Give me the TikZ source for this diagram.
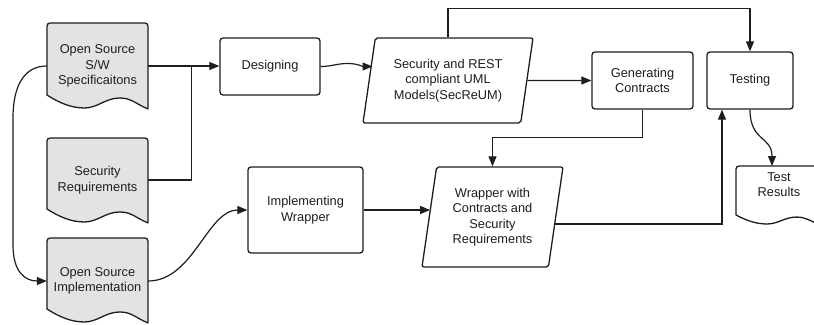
\documentclass[tikz,border=0pt]{standalone}
\usepackage{fontspec}
\setmainfont{Liberation Sans}
\usetikzlibrary{arrows.meta,shapes.geometric,calc}
\definecolor{ink}{HTML}{1E1E1E}
\definecolor{docfill}{HTML}{E3E3E3}
\newcommand\mainf{\fontsize{12.8pt}{15.5pt}\selectfont}
% #1 left, #2 top, #3 width, #4 height of left side, #5 wave amplitude, #6 fill
\newcommand\docshape[6]{%
  \draw[docst, fill=#6] [rounded corners=3pt] (#1,{#2+#4}) -- (#1,#2) -- ({#1+#3},#2) [sharp corners]
    -- ({#1+#3},{#2+#4+1.07*#5})
    .. controls ({#1+0.88*#3},{#2+#4+0.7*#5}) and ({#1+0.84*#3},{#2+#4+0.23*#5}) .. ({#1+0.72*#3},{#2+#4+0.23*#5})
    .. controls ({#1+0.58*#3},{#2+#4+0.23*#5}) and ({#1+0.5*#3},{#2+#4+#5}) .. ({#1+0.37*#3},{#2+#4+#5})
    .. controls ({#1+0.24*#3},{#2+#4+#5}) and ({#1+0.12*#3},{#2+#4+0.6*#5}) .. (#1,{#2+#4}) -- cycle;}
\tikzset{
  box/.style={draw=ink, line width=1.3pt, rounded corners=3pt, fill=white, inner sep=0pt, align=center, font=\mainf, text=ink},
  para/.style={trapezium, trapezium stretches body, draw=ink, line width=1.3pt, rounded corners=2pt, fill=white, inner sep=0pt, align=center, font=\mainf, text=ink},
  doctext/.style={inner sep=0pt, minimum width=101pt, minimum height=86pt, align=center, font=\mainf, text=ink},
  plaintext/.style={inner sep=0pt, align=center, font=\mainf, text=ink},
  arr/.style={draw=ink, line width=1.2pt, -{Triangle[length=10pt,width=8pt]}},
  conn/.style={draw=ink, line width=1.2pt},
  docst/.style={draw=ink, line width=1.3pt, line join=round}
}
\begin{document}
\begin{tikzpicture}[x=1pt,y=-1pt]
\fill[white] (0,0) rectangle (814,324);
\useasboundingbox (0,0) rectangle (814,324);

% documents
\docshape{47}{23}{101}{72}{13}{docfill}
\docshape{47}{138}{101}{71}{13}{docfill}
\docshape{47}{238}{101}{71}{13}{docfill}
\docshape{736}{166}{84}{49}{9}{white}
\node[doctext] (d1) at (97.5,66) {Open Source\\S/W\\Specificaitons};
\node[doctext] (d2) at (97.5,180) {Security\\Requirements};
\node[doctext] (d3) at (97.5,281) {Open Source\\Implementation};
\node[plaintext] (tr) at (779,184.5) {Test\\Results};
\coordinate (trtop) at (772,166);

% process boxes
\node[box, minimum width=100pt, minimum height=57pt] (des) at (270,66.5) {Designing};
\node[box, minimum width=101pt, minimum height=57pt] (gen) at (642.5,80.5) {Generating\\Contracts};
\node[box, minimum width=86pt, minimum height=57pt] (test) at (750,80.5) {Testing};
\node[box, minimum width=115pt, minimum height=86pt] (impl) at (305.5,210) {Implementing\\Wrapper};

% data (parallelograms)
\node[para, trapezium left angle=74, trapezium right angle=106, minimum width=170pt, minimum height=85pt] (sec) at (448,80.5) {Security and REST\\compliant UML\\Models(SecReUM)};
\node[para, trapezium left angle=76, trapezium right angle=104, minimum width=141pt, minimum height=100pt] (wrap) at (492.5,217) {Wrapper with\\Contracts and\\Security\\Requirements};

% connectors
\draw[arr] (d1.east) -- (d1.east -| des.west);
\path (d1.east) -- ++(43,0) coordinate (j);
\draw[conn] (d2.east) -| (j);
\draw[arr] (des.east) to[out=0,in=180] ($(des.east)+(27,-3)$) to[out=0,in=180] ($(des.east -| sec.west)+(4,0)$);
\draw[arr] (sec.north) -- ++(0,-29) -| (test.north);
\draw[arr] (sec.east) -- (gen.west);
\draw[arr] (gen.south) -- ++(0,28) -| (wrap.north);
\draw[arr] (d3.east) .. controls ($(d3.east)+(45,0)$) and ($(impl.west)+(-40,0)$) .. (impl.west);
\draw[arr] (impl.east) -- ($(impl.east -| wrap.west)+(1.5,0)$);
\draw[arr] ($(wrap.east)+(-1.5,7)$) -| ($(test.south)+(-28,0)$);
\draw[arr] (test.south) .. controls ($(test.south)+(0,32)$) and ($(trtop)+(0,-30)$) .. (trtop);
\coordinate (l1) at (13,118);
\coordinate (l2) at (13,245);
\draw[arr] (d1.west) .. controls (24,66) and (13,86) .. (l1) -- (l2) .. controls (13,272) and (25,281) .. (d3.west);
\end{tikzpicture}
\end{document}
